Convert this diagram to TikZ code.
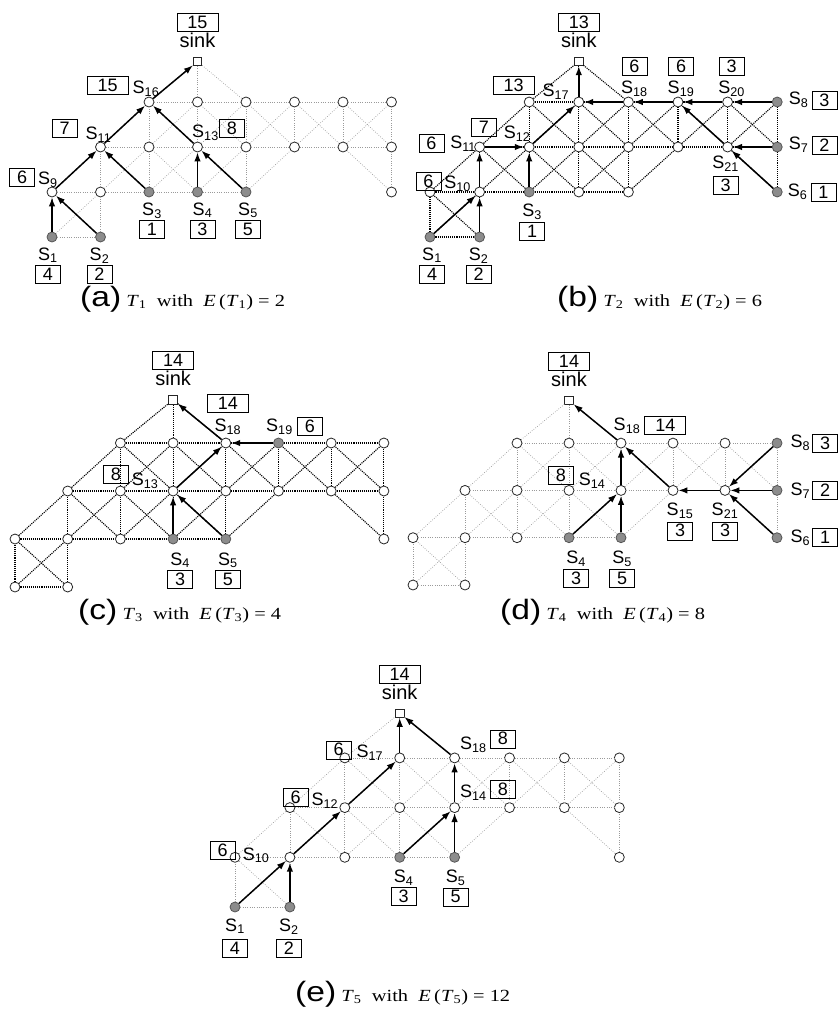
\documentclass[tikz,border=0pt]{standalone}
\usepackage{fontspec}
\setmainfont{Liberation Serif}
\setsansfont{Liberation Sans}
\usetikzlibrary{positioning,arrows.meta}

\definecolor{srcgray}{HTML}{8C8C8C}
\definecolor{srcline}{HTML}{555555}
\definecolor{meshgray}{HTML}{9A9A9A}

\newcommand{\lblfont}{\sffamily\fontsize{18}{18}\selectfont}
\newcommand{\capfont}{\sffamily\fontsize{28}{28}\selectfont}

% the same sensor field is drawn in every panel
\newcommand{\meshnet}[2]{%
  \foreach \c/\r in {0/0,1/0,0/1,1/1,2/1,3/1,4/1,7/1,1/2,2/2,3/2,4/2,5/2,6/2,7/2,2/3,3/3,4/3,5/3,6/3,7/3}
    \node[vtx, v\c\r/.try] (#1\c\r) at (\c,\r) {};
  \node[sinkbox] (#1sink) at (3,3.9) {};
  \foreach \p/\q in {00/10,01/11,11/21,21/31,31/41,12/22,22/32,32/42,42/52,52/62,62/72,
      23/33,33/43,43/53,53/63,63/73,
      00/01,10/11,11/12,21/22,22/23,31/32,32/33,33/sink,41/42,42/43,52/53,62/63,71/72,72/73,
      00/11,10/01,01/12,11/22,21/12,12/23,21/32,31/22,22/33,32/23,23/sink,sink/43,
      31/42,41/32,32/43,42/33,41/52,42/53,52/43,52/63,62/53,62/73,72/63,62/71}
    \draw[#2] (#1\p) -- (#1\q);
}

\begin{document}
\begin{tikzpicture}[x=1pt, y=-1pt,
  vtx/.style={circle, draw=black!85, line width=0.8pt, fill=white, minimum size=10pt, inner sep=0pt},
  src/.style={fill=srcgray, draw=srcline},
  sinkbox/.style={rectangle, draw=black!85, line width=0.8pt, fill=white, minimum size=8.5pt, inner sep=0pt},
  lightmesh/.style={draw=meshgray, line width=0.7pt, dash pattern=on 0.7pt off 1.6pt},
  darkmesh/.style={draw=black, line width=1.1pt, dash pattern=on 1.1pt off 1pt},
  arr/.style={-{Latex[length=9pt,width=6.5pt]}, line width=1.5pt, black},
  lbl/.style={font=\lblfont, inner sep=0pt},
  sinklbl/.style={font=\sffamily\fontsize{20}{20}\selectfont, inner sep=0pt},
  val/.style={draw, line width=0.7pt, font=\lblfont, inner xsep=7.5pt, inner ysep=3pt, text height=12pt, text depth=0pt},
  val2/.style={val, inner xsep=10.5pt},
  captxt/.style={font=\fontsize{17}{17}\selectfont, inner sep=0pt, xscale=1.2, transform shape}
]
\useasboundingbox (0,0) rectangle (838,1009);

% (a)
\begin{scope}[shift={(52,237)}, x=48.5pt, y=45pt,
  v00/.style=src, v10/.style=src, v21/.style=src, v31/.style=src, v41/.style=src]
  \meshnet{a}{lightmesh}
  \draw[arr] (a00) -- (a01);
  \draw[arr] (a10) -- (a01);
  \draw[arr] (a01) -- (a12);
  \draw[arr] (a21) -- (a12);
  \draw[arr] (a12) -- (a23);
  \draw[arr] (a23) -- (asink);
  \draw[arr] (a31) -- (a32);
  \draw[arr] (a41) -- (a32);
  \draw[arr] (a32) -- (a23);
  \node[sinklbl, above=9pt of asink] (asinkl) {sink};
  \node[val2, above=1pt of asinkl] (asinkv) {15};
  \node[lbl, above=0pt of a23, xshift=-3pt] (aS16) {S\textsubscript{16}};
  \node[val2, left=4pt of aS16, yshift=3pt] (aV16) {15};
  \node[lbl, above=-1pt of a12, xshift=-2pt] (aS11) {S\textsubscript{11}};
  \node[val, left=8pt of aS11, yshift=6pt] (aV11) {7};
  \node[lbl, above=-1pt of a01, xshift=-4pt] (aS9) {S\textsubscript{9}};
  \node[val, left=3pt of aS9, yshift=2pt] (aV9) {6};
  \node[lbl, above=1pt of a32, xshift=8pt] (aS13) {S\textsubscript{13}};
  \node[val, right=0pt of aS13, yshift=4pt] (aV13) {8};
  \node[lbl, below=5pt of a21, xshift=3pt] (aS3) {S\textsubscript{3}};
  \node[val, below=2pt of aS3] (aV3) {1};
  \node[lbl, below=5pt of a31, xshift=5pt] (aS4) {S\textsubscript{4}};
  \node[val, below=2pt of aS4] (aV4) {3};
  \node[lbl, below=5pt of a41, xshift=2pt] (aS5) {S\textsubscript{5}};
  \node[val, below=2pt of aS5] (aV5) {5};
  \node[lbl, below=5pt of a00, xshift=-4pt] (aS1) {S\textsubscript{1}};
  \node[val, below=2pt of aS1] (aV1) {4};
  \node[lbl, below=5pt of a10, xshift=-1pt] (aS2) {S\textsubscript{2}};
  \node[val, below=2pt of aS2] (aV2) {2};
\end{scope}
\node[captxt, anchor=base west] (acap) at (80,306)
  {{\capfont(a)} \textit{T}\textsubscript{1}~ with~ \textit{E}\,(\textit{T}\textsubscript{1}) = 2};

% (b)
\begin{scope}[shift={(430,237)}, x=49.6pt, y=45pt,
  v00/.style=src, v10/.style=src, v21/.style=src, v71/.style=src, v72/.style=src, v73/.style=src]
  \meshnet{b}{darkmesh}
  \draw[arr] (b00) -- (b11);
  \draw[arr] (b10) -- (b11);
  \draw[arr] (b11) -- (b12);
  \draw[arr] (b12) -- (b22);
  \draw[arr] (b21) -- (b22);
  \draw[arr] (b22) -- (b33);
  \draw[arr] (b33) -- (bsink);
  \draw[arr] (b43) -- (b33);
  \draw[arr] (b53) -- (b43);
  \draw[arr] (b63) -- (b53);
  \draw[arr] (b73) -- (b63);
  \draw[arr] (b72) -- (b62);
  \draw[arr] (b71) -- (b62);
  \draw[arr] (b62) -- (b53);
  \node[sinklbl, above=9pt of bsink] (bsinkl) {sink};
  \node[val2, above=1pt of bsinkl] (bsinkv) {13};
  \node[lbl, left=4pt of b33, yshift=10pt] (bS17) {S\textsubscript{17}};
  \node[val2, left=8pt of bS17, yshift=7pt] (bV17) {13};
  \node[lbl, above=0pt of b22, xshift=-12pt] (bS12) {S\textsubscript{12}};
  \node[val, left=7pt of bS12, yshift=6pt] (bV12) {7};
  \node[lbl, left=-2pt of b12, yshift=3pt] (bS11) {S\textsubscript{11}};
  \node[val, left=6pt of bS11, yshift=1pt] (bV11) {6};
  \node[lbl, left=3pt of b11, yshift=8pt] (bS10) {S\textsubscript{10}};
  \node[val, left=3pt of bS10, yshift=3pt] (bV10) {6};
  \node[lbl, above=0pt of b43, xshift=6pt] (bS18) {S\textsubscript{18}};
  \node[val, above=5pt of bS18] (bV18) {6};
  \node[lbl, above=0pt of b53, xshift=3pt] (bS19) {S\textsubscript{19}};
  \node[val, above=5pt of bS19] (bV19) {6};
  \node[lbl, above=0pt of b63, xshift=4pt] (bS20) {S\textsubscript{20}};
  \node[val, above=5pt of bS20] (bV20) {3};
  \node[lbl, right=6pt of b73, yshift=2pt] (bS8) {S\textsubscript{8}};
  \node[val, right=3pt of bS8] (bV8) {3};
  \node[lbl, right=6pt of b72, yshift=2pt] (bS7) {S\textsubscript{7}};
  \node[val, right=3pt of bS7] (bV7) {2};
  \node[lbl, right=5pt of b71] (bS6) {S\textsubscript{6}};
  \node[val, right=3pt of bS6] (bV6) {1};
  \node[lbl, below=3pt of b62, xshift=-2pt] (bS21) {S\textsubscript{21}};
  \node[val, below=5pt of bS21] (bV21) {3};
  \node[lbl, below=6pt of b21, xshift=3pt] (bS3) {S\textsubscript{3}};
  \node[val, below=3pt of bS3] (bV3) {1};
  \node[lbl, below=5pt of b00, xshift=2pt] (bS1) {S\textsubscript{1}};
  \node[val, below=2pt of bS1] (bV1) {4};
  \node[lbl, below=5pt of b10, xshift=-1pt] (bS2) {S\textsubscript{2}};
  \node[val, below=2pt of bS2] (bV2) {2};
\end{scope}
\node[captxt, anchor=base west] (bcap) at (557,306)
  {{\capfont(b)} \textit{T}\textsubscript{2}~ with~ \textit{E}\,(\textit{T}\textsubscript{2}) = 6};

% (c)
\begin{scope}[shift={(15,587)}, x=52.7pt, y=48pt,
  v31/.style=src, v41/.style=src, v53/.style=src]
  \meshnet{c}{darkmesh}
  \draw[arr] (c31) -- (c32);
  \draw[arr] (c41) -- (c32);
  \draw[arr] (c32) -- (c43);
  \draw[arr] (c53) -- (c43);
  \draw[arr] (c43) -- (csink);
  \node[sinklbl, above=9pt of csink] (csinkl) {sink};
  \node[val2, above=1pt of csinkl] (csinkv) {14};
  \node[lbl, above=3pt of c43, xshift=2pt] (cS18) {S\textsubscript{18}};
  \node[val2, above=6pt of cS18] (cV18) {14};
  \node[lbl, above=3pt of c53, xshift=1pt] (cS19) {S\textsubscript{19}};
  \node[val, right=4pt of cS19] (cV19) {6};
  \node[lbl, left=9pt of c32, yshift=10pt] (cS13) {S\textsubscript{13}};
  \node[val, left=3pt of cS13, yshift=7pt] (cV13) {8};
  \node[lbl, below=8pt of c31, xshift=7pt] (cS4) {S\textsubscript{4}};
  \node[val, below=2pt of cS4] (cV4) {3};
  \node[lbl, below=8pt of c41, xshift=2pt] (cS5) {S\textsubscript{5}};
  \node[val, below=2pt of cS5] (cV5) {5};
\end{scope}
\node[captxt, anchor=base west] (ccap) at (78,619)
  {{\capfont(c)} \textit{T}\textsubscript{3}~ with~ \textit{E}\,(\textit{T}\textsubscript{3}) = 4};

% (d)
\begin{scope}[shift={(413,585)}, x=52pt, y=47.3pt,
  v31/.style=src, v41/.style=src, v71/.style=src, v72/.style=src, v73/.style=src]
  \meshnet{d}{lightmesh}
  \draw[arr] (d31) -- (d42);
  \draw[arr] (d41) -- (d42);
  \draw[arr] (d42) -- (d43);
  \draw[arr] (d43) -- (dsink);
  \draw[arr] (d52) -- (d43);
  \draw[arr] (d62) -- (d52);
  \draw[arr] (d73) -- (d62);
  \draw[arr] (d72) -- (d62);
  \draw[arr] (d71) -- (d62);
  \node[sinklbl, above=9pt of dsink] (dsinkl) {sink};
  \node[val2, above=1pt of dsinkl] (dsinkv) {14};
  \node[lbl, above=4pt of d43, xshift=6pt] (dS18) {S\textsubscript{18}};
  \node[val2, right=4pt of dS18] (dV18) {14};
  \node[lbl, left=10pt of d42, yshift=10pt] (dS14) {S\textsubscript{14}};
  \node[val, left=5pt of dS14, yshift=5pt] (dV14) {8};
  \node[lbl, below=7pt of d52, xshift=7pt] (dS15) {S\textsubscript{15}};
  \node[val, below=3pt of dS15] (dV15) {3};
  \node[lbl, below=7pt of d62] (dS21) {S\textsubscript{21}};
  \node[val, below=3pt of dS21] (dV21) {3};
  \node[lbl, right=8pt of d73] (dS8) {S\textsubscript{8}};
  \node[val, right=2pt of dS8] (dV8) {3};
  \node[lbl, right=8pt of d72] (dS7) {S\textsubscript{7}};
  \node[val, right=2pt of dS7] (dV7) {2};
  \node[lbl, right=8pt of d71] (dS6) {S\textsubscript{6}};
  \node[val, right=2pt of dS6] (dV6) {1};
  \node[lbl, below=8pt of d31, xshift=7pt] (dS4) {S\textsubscript{4}};
  \node[val, below=2pt of dS4] (dV4) {3};
  \node[lbl, below=8pt of d41, xshift=1pt] (dS5) {S\textsubscript{5}};
  \node[val, below=2pt of dS5] (dV5) {5};
\end{scope}
\node[captxt, anchor=base west] (dcap) at (500,619)
  {{\capfont(d)} \textit{T}\textsubscript{4}~ with~ \textit{E}\,(\textit{T}\textsubscript{4}) = 8};

% (e)
\begin{scope}[shift={(235,907)}, x=54.9pt, y=49.7pt,
  v00/.style=src, v10/.style=src, v31/.style=src, v41/.style=src]
  \meshnet{e}{lightmesh}
  \draw[arr] (e00) -- (e11);
  \draw[arr] (e10) -- (e11);
  \draw[arr] (e11) -- (e22);
  \draw[arr] (e22) -- (e33);
  \draw[arr] (e33) -- (esink);
  \draw[arr] (e43) -- (esink);
  \draw[arr] (e42) -- (e43);
  \draw[arr] (e31) -- (e42);
  \draw[arr] (e41) -- (e42);
  \node[sinklbl, above=9pt of esink] (esinkl) {sink};
  \node[val2, above=1pt of esinkl] (esinkv) {14};
  \node[lbl, left=11pt of e33, yshift=5pt] (eS17) {S\textsubscript{17}};
  \node[val, left=5pt of eS17, yshift=3pt] (eV17) {6};
  \node[lbl, left=1pt of e22, yshift=7pt] (eS12) {S\textsubscript{12}};
  \node[val, left=3pt of eS12, yshift=3pt] (eV12) {6};
  \node[lbl, left=15pt of e11, yshift=2pt] (eS10) {S\textsubscript{10}};
  \node[val, left=7pt of eS10, yshift=5pt] (eV10) {6};
  \node[lbl, right=0pt of e43, yshift=13pt] (eS18) {S\textsubscript{18}};
  \node[val, right=3pt of eS18, yshift=6pt] (eV18) {8};
  \node[lbl, right=0pt of e42, yshift=15pt] (eS14) {S\textsubscript{14}};
  \node[val, right=3pt of eS14, yshift=3pt] (eV14) {8};
  \node[lbl, below=7pt of e31, xshift=4pt] (eS4) {S\textsubscript{4}};
  \node[val, below=2pt of eS4] (eV4) {3};
  \node[lbl, below=7pt of e41, xshift=1pt] (eS5) {S\textsubscript{5}};
  \node[val, below=2pt of eS5] (eV5) {5};
  \node[lbl, below=6pt of e00] (eS1) {S\textsubscript{1}};
  \node[val, below=5pt of eS1] (eV1) {4};
  \node[lbl, below=6pt of e10, xshift=-1pt] (eS2) {S\textsubscript{2}};
  \node[val, below=5pt of eS2] (eV2) {2};
\end{scope}
\node[captxt, anchor=base west] (ecap) at (295,1001)
  {{\capfont(e)} \textit{T}\textsubscript{5}~ with~ \textit{E}\,(\textit{T}\textsubscript{5}) = 12};
\end{tikzpicture}
\end{document}
